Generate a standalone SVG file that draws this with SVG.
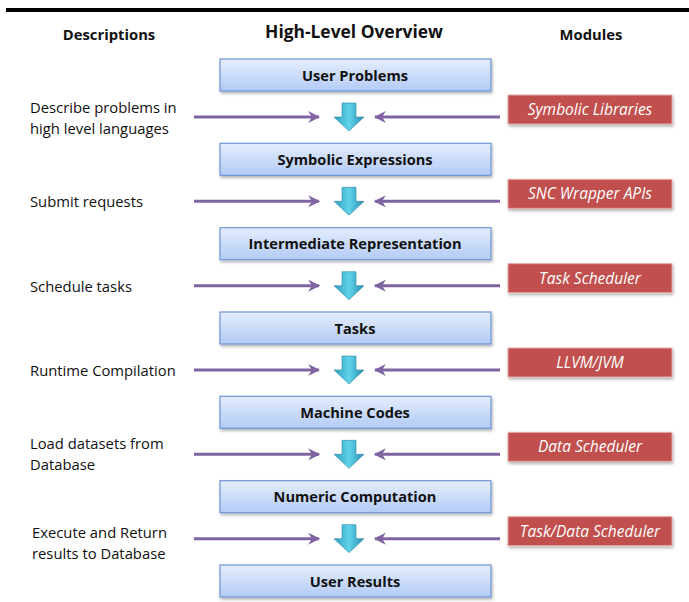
<svg xmlns="http://www.w3.org/2000/svg" width="689" height="602" viewBox="0 0 689 602">
<defs>
<linearGradient id="gBlue" x1="0" y1="0" x2="0" y2="1">
<stop offset="0" stop-color="#e4edfc"/>
<stop offset="1" stop-color="#b3cbf6"/>
</linearGradient>
<linearGradient id="gArrow" x1="0" y1="0" x2="1" y2="0">
<stop offset="0" stop-color="#2f9fc0"/>
<stop offset="0.5" stop-color="#5fd3ea"/>
<stop offset="1" stop-color="#2a8fb0"/>
</linearGradient>
<filter id="sh" x="-10%" y="-20%" width="120%" height="160%">
<feDropShadow dx="1" dy="2" stdDeviation="1.5" flood-color="#000" flood-opacity="0.3"/>
</filter>
<marker id="mh" viewBox="0 0 10 10" refX="9" refY="5" markerWidth="4" markerHeight="4" orient="auto">
<path d="M0,0 L10,5 L0,10 L3,5 Z" fill="#8064a2"/>
</marker>
</defs>
<style>
.box{fill:url(#gBlue);stroke:#6e96d6;stroke-width:1.2;filter:url(#sh)}
.btxt{font-family:"Open Sans","Liberation Sans",sans-serif;font-weight:bold;font-size:14.6px;fill:#111;text-anchor:middle}
.mod{fill:#c0504d;stroke:#e6a9a7;stroke-width:1;filter:url(#sh)}
.mtxt{font-family:"Open Sans","Liberation Sans",sans-serif;font-style:italic;font-size:15.5px;fill:#fff;text-anchor:middle}
.desc{font-family:"Open Sans","Liberation Sans",sans-serif;font-size:14.8px;fill:#111}
.head{font-family:"Open Sans","Liberation Sans",sans-serif;font-weight:bold;font-size:14.8px;fill:#111;text-anchor:middle}
.conn{stroke:#8064a2;stroke-width:3;fill:none;marker-end:url(#mh)}
.down{fill:url(#gArrow);stroke:#2a86a6;stroke-width:0.6}
</style>
<rect x="6" y="8" width="683" height="4" fill="#000"/>
<text class="head" x="109" y="40">Descriptions</text>
<text class="head" x="354" y="38" style="font-size:17.4px">High-Level Overview</text>
<text class="head" x="591" y="40">Modules</text>

<g id="n_user_problems"><rect class="box" x="220" y="59" width="271" height="32"/><text class="btxt" x="355" y="80.5">User Problems</text></g>
<g id="n_symbolic_expressions"><rect class="box" x="220" y="143.3" width="271" height="32"/><text class="btxt" x="355" y="164.8">Symbolic Expressions</text></g>
<g id="n_intermediate"><rect class="box" x="220" y="227.7" width="271" height="32"/><text class="btxt" x="355" y="249.2">Intermediate Representation</text></g>
<g id="n_tasks"><rect class="box" x="220" y="312" width="271" height="32"/><text class="btxt" x="355" y="333.5">Tasks</text></g>
<g id="n_machine_codes"><rect class="box" x="220" y="396.3" width="271" height="32"/><text class="btxt" x="355" y="417.8">Machine Codes</text></g>
<g id="n_numeric"><rect class="box" x="220" y="480.7" width="271" height="32"/><text class="btxt" x="355" y="502.2">Numeric Computation</text></g>
<g id="n_user_results"><rect class="box" x="220" y="565" width="271" height="32"/><text class="btxt" x="355" y="586.5">User Results</text></g>

<g id="m_symbolic_libraries"><rect class="mod" x="508" y="95" width="164" height="29"/><text class="mtxt" x="590" y="115">Symbolic Libraries</text></g>
<g id="m_snc" transform="translate(0,84.33)"><rect class="mod" x="508" y="95" width="164" height="29"/><text class="mtxt" x="590" y="115">SNC Wrapper APIs</text></g>
<g id="m_task_scheduler" transform="translate(0,168.67)"><rect class="mod" x="508" y="95" width="164" height="29"/><text class="mtxt" x="590" y="115">Task Scheduler</text></g>
<g id="m_llvm" transform="translate(0,253)"><rect class="mod" x="508" y="95" width="164" height="29"/><text class="mtxt" x="590" y="115">LLVM/JVM</text></g>
<g id="m_data_scheduler" transform="translate(0,337.33)"><rect class="mod" x="508" y="95" width="164" height="29"/><text class="mtxt" x="590" y="115">Data Scheduler</text></g>
<g id="m_taskdata" transform="translate(0,421.67)"><rect class="mod" x="508" y="95" width="164" height="29"/><text class="mtxt" x="590" y="115">Task/Data Scheduler</text></g>

<g id="descriptions">
<text class="desc" x="30" y="113">Describe problems in</text>
<text class="desc" x="30" y="134">high level languages</text>
<text class="desc" x="30" y="207">Submit requests</text>
<text class="desc" x="30" y="292">Schedule tasks</text>
<text class="desc" x="30" y="376">Runtime Compilation</text>
<text class="desc" x="30" y="449">Load datasets from</text>
<text class="desc" x="30" y="470">Database</text>
<text class="desc" x="32" y="538">Execute and Return</text>
<text class="desc" x="32" y="559">results to Database</text>
</g>

<g id="connectors">
<g id="row0">
<line class="conn" x1="194" y1="117" x2="319" y2="117"/>
<line class="conn" x1="500" y1="117" x2="375" y2="117"/>
<path class="down" d="M342,103 L356,103 L356,117 L364,117 L349,131 L334,117 L342,117 Z"/>
</g>
<g id="row1" transform="translate(0,84.33)">
<line class="conn" x1="194" y1="117" x2="319" y2="117"/>
<line class="conn" x1="500" y1="117" x2="375" y2="117"/>
<path class="down" d="M342,103 L356,103 L356,117 L364,117 L349,131 L334,117 L342,117 Z"/>
</g>
<g id="row2" transform="translate(0,168.67)">
<line class="conn" x1="194" y1="117" x2="319" y2="117"/>
<line class="conn" x1="500" y1="117" x2="375" y2="117"/>
<path class="down" d="M342,103 L356,103 L356,117 L364,117 L349,131 L334,117 L342,117 Z"/>
</g>
<g id="row3" transform="translate(0,253)">
<line class="conn" x1="194" y1="117" x2="319" y2="117"/>
<line class="conn" x1="500" y1="117" x2="375" y2="117"/>
<path class="down" d="M342,103 L356,103 L356,117 L364,117 L349,131 L334,117 L342,117 Z"/>
</g>
<g id="row4" transform="translate(0,337.33)">
<line class="conn" x1="194" y1="117" x2="319" y2="117"/>
<line class="conn" x1="500" y1="117" x2="375" y2="117"/>
<path class="down" d="M342,103 L356,103 L356,117 L364,117 L349,131 L334,117 L342,117 Z"/>
</g>
<g id="row5" transform="translate(0,421.67)">
<line class="conn" x1="194" y1="117" x2="319" y2="117"/>
<line class="conn" x1="500" y1="117" x2="375" y2="117"/>
<path class="down" d="M342,103 L356,103 L356,117 L364,117 L349,131 L334,117 L342,117 Z"/>
</g>
</g>
</svg>
